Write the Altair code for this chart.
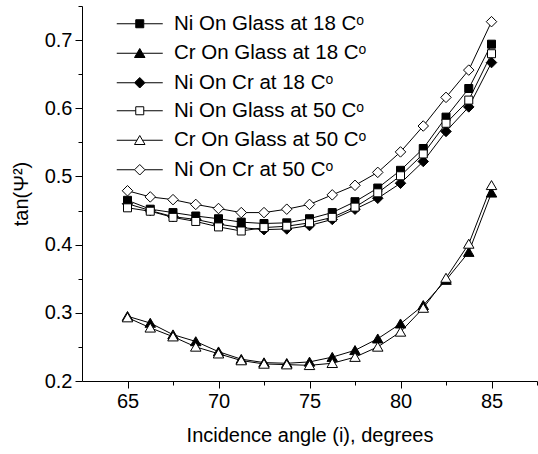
import altair as alt
import pandas as pd

angles = [65.0, 66.25, 67.5, 68.75, 70.0, 71.25, 72.5, 73.75, 75.0, 76.25,
          77.5, 78.75, 80.0, 81.25, 82.5, 83.75, 85.0]

ni_glass_18 = [0.465, 0.452, 0.447, 0.442, 0.438, 0.433, 0.431, 0.432, 0.438, 0.447,
               0.463, 0.483, 0.509, 0.541, 0.587, 0.629, 0.694]
cr_glass_18 = [0.295, 0.285, 0.268, 0.258, 0.243, 0.232, 0.227, 0.226, 0.228, 0.235,
               0.245, 0.262, 0.284, 0.311, 0.348, 0.389, 0.476]
ni_cr_18 = [0.460, 0.450, 0.441, 0.437, 0.430, 0.425, 0.422, 0.423, 0.428, 0.437,
            0.452, 0.468, 0.490, 0.522, 0.566, 0.602, 0.667]
ni_glass_50 = [0.454, 0.449, 0.440, 0.434, 0.426, 0.420, 0.425, 0.427, 0.432, 0.440,
               0.455, 0.476, 0.501, 0.533, 0.578, 0.612, 0.680]
cr_glass_50 = [0.293, 0.278, 0.265, 0.250, 0.240, 0.230, 0.225, 0.224, 0.223, 0.226,
               0.235, 0.250, 0.272, 0.307, 0.351, 0.401, 0.487]
ni_cr_50 = [0.479, 0.470, 0.466, 0.459, 0.453, 0.447, 0.447, 0.452, 0.459, 0.473,
            0.487, 0.506, 0.536, 0.574, 0.616, 0.656, 0.727]

series_names = ["Ni On Glass at 18 C\u1d52", "Cr On Glass at 18 C\u1d52", "Ni On Cr at 18 C\u1d52",
                "Ni On Glass at 50 C\u1d52", "Cr On Glass at 50 C\u1d52", "Ni On Cr at 50 C\u1d52"]
series_values = [ni_glass_18, cr_glass_18, ni_cr_18, ni_glass_50, cr_glass_50, ni_cr_50]
series_filled = [True, True, True, False, False, False]

x_major = [65, 70, 75, 80, 85]
x_minor = [67.5, 72.5, 77.5, 82.5, 87.5]
y_major = [0.2, 0.3, 0.4, 0.5, 0.6, 0.7]
y_minor = [0.25, 0.35, 0.45, 0.55, 0.65, 0.75]

rows = []
for name, vals, filled in zip(series_names, series_values, series_filled):
    for a, v in zip(angles, vals):
        rows.append({"angle": a, "value": v, "series": name, "filled": filled})
df = pd.DataFrame(rows)

SQ = "M-0.8,-0.8H0.8V0.8H-0.8Z"
TRI = "M0,-0.95L1.05,0.85L-1.05,0.85Z"
DIA = "M0,-1.05L1.05,0L0,1.05L-1.05,0Z"
marker_paths = [SQ, TRI, DIA, SQ, TRI, DIA]

L = 4.6
LSQ = f"M-{L},0H-0.8M0.8,0H{L}" + SQ
LTRI = f"M-{L},0H-0.55M0.55,0H{L}" + TRI
LDIA = f"M-{L},0H-1.05M1.05,0H{L}" + DIA
legend_paths = [LSQ, LTRI, LDIA]

FONT = "Liberation Sans"
xscale = alt.Scale(domain=[62.5, 87.5], nice=False, zero=False)
yscale = alt.Scale(domain=[0.2, 0.75], nice=False, zero=False)

base = alt.Chart(df)

lines = base.mark_line(color="black", strokeWidth=1).encode(
    x=alt.X("angle:Q", scale=xscale,
            axis=alt.Axis(values=x_major, tickSize=7, labelPadding=3, format="d",
                          title="Incidence angle (i), degrees", titlePadding=14,
                          orient="bottom")),
    y=alt.Y("value:Q", scale=yscale,
            axis=alt.Axis(values=y_major, tickSize=7, labelPadding=3, format=".1f",
                          title="tan(\u03a8\u00b2)", titlePadding=13, orient="left")),
    detail="series:N",
)

points = base.mark_point(filled=True, stroke="black", strokeWidth=1, size=100, opacity=1).encode(
    x=alt.X("angle:Q", scale=xscale,
            axis=alt.Axis(values=x_minor, tickSize=4, labels=False, domain=False,
                          title=None, orient="bottom")),
    y=alt.Y("value:Q", scale=yscale,
            axis=alt.Axis(values=y_minor, tickSize=4, labels=False, domain=False,
                          title=None, orient="left")),
    shape=alt.Shape("series:N", scale=alt.Scale(domain=series_names, range=marker_paths),
                    legend=None),
    fill=alt.Fill("series:N", scale=alt.Scale(domain=series_names,
                                              range=["black"] * 3 + ["white"] * 3),
                  legend=None),
)

leg_common = dict(orient="none", title=None, padding=0, labelFont=FONT, labelFontSize=20.5,
                  labelColor="black", labelOffset=24, rowPadding=8.5, symbolSize=100,
                  symbolStrokeWidth=1, symbolOpacity=1, labelLimit=0, labelBaseline="middle")

legend_filled = base.transform_filter("datum.value < 0").mark_point(
    filled=True, fill="black", stroke="black", strokeWidth=1, size=100).encode(
    x=alt.X("angle:Q", scale=xscale, axis=None),
    y=alt.Y("value:Q", scale=yscale, axis=None),
    shape=alt.Shape("series:N", scale=alt.Scale(domain=series_names[:3], range=legend_paths),
                    legend=alt.Legend(legendX=47.5, legendY=7.5, **leg_common)),
)

legend_open = base.transform_filter("datum.value < 0").mark_point(
    filled=True, fill="white", stroke="black", strokeWidth=1, size=100).encode(
    x=alt.X("angle:Q", scale=xscale, axis=None),
    y=alt.Y("value:Q", scale=yscale, axis=None),
    shape=alt.Shape("series:N", scale=alt.Scale(domain=series_names[3:], range=legend_paths),
                    legend=alt.Legend(legendX=47.5, legendY=94.5, **leg_common)),
)

chart = alt.layer(lines, points, legend_filled, legend_open).resolve_scale(
    shape="independent", fill="independent"
).resolve_axis(x="independent", y="independent").properties(
    width=455, height=375,
    autosize=alt.AutoSizeParams(type="none"),
    padding={"left": 82, "top": 6, "right": 1, "bottom": 73},
).configure_view(stroke=None).configure_axis(
    grid=False, domainColor="black", tickColor="black", labelColor="black",
    titleColor="black", labelFont=FONT, titleFont=FONT, labelFontSize=20,
    titleFontSize=20, titleFontWeight="normal", domainWidth=1, tickWidth=1,
)

chart.save("out.html", embed_options={"renderer": "svg", "actions": False})
